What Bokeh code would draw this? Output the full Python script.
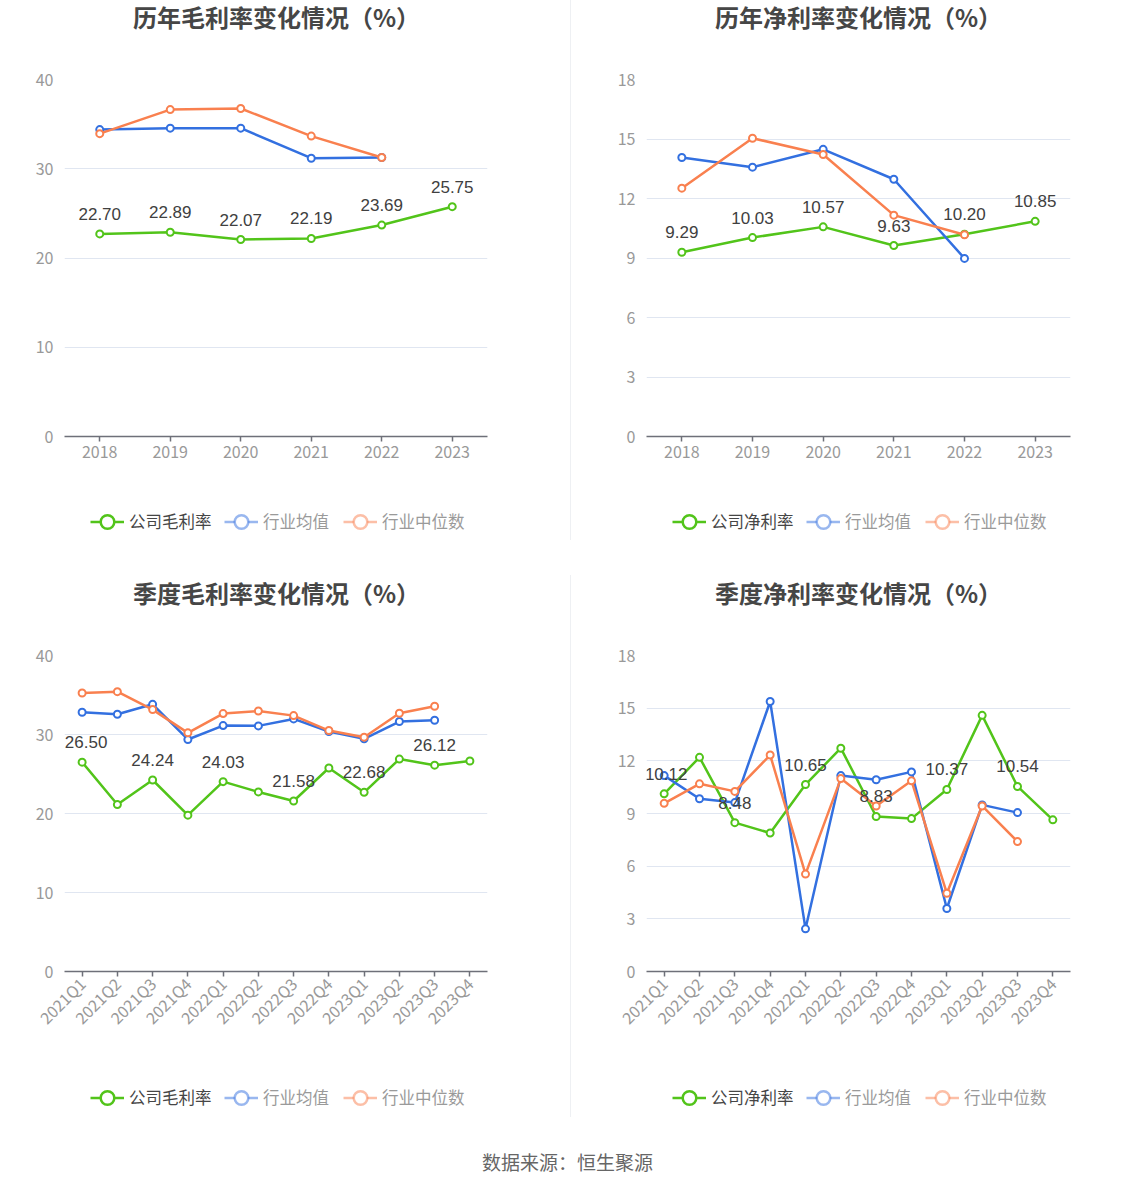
import math
from bokeh.plotting import figure
from bokeh.models import Range1d, FixedTicker, Legend, LegendItem, ColumnDataSource, Spacer
from bokeh.layouts import row, column
from bokeh.embed import file_html
from bokeh.resources import INLINE

years = ["2018", "2019", "2020", "2021", "2022", "2023"]
quarters = ["2021Q1", "2021Q2", "2021Q3", "2021Q4", "2022Q1", "2022Q2",
            "2022Q3", "2022Q4", "2023Q1", "2023Q2", "2023Q3", "2023Q4"]

annual_gross_company = [22.70, 22.89, 22.07, 22.19, 23.69, 25.75]
annual_gross_ind_mean = [34.39, 34.55, 34.55, 31.18, 31.26]
annual_gross_ind_median = [33.93, 36.63, 36.75, 33.66, 31.26]

annual_net_company = [9.29, 10.03, 10.57, 9.63, 10.20, 10.85]
annual_net_ind_mean = [14.07, 13.58, 14.48, 12.97, 8.98]
annual_net_ind_median = [12.52, 15.04, 14.22, 11.16, 10.17]

q_gross_company = [26.50, 21.13, 24.24, 19.79, 24.03, 22.73, 21.58, 25.76, 22.68, 26.89, 26.12, 26.64]
q_gross_ind_mean = [32.82, 32.56, 33.82, 29.37, 31.13, 31.09, 31.97, 30.38, 29.45, 31.64, 31.81]
q_gross_ind_median = [35.25, 35.42, 33.15, 30.21, 32.65, 32.98, 32.39, 30.50, 29.66, 32.69, 33.57]

q_net_company = [10.12, 12.20, 8.48, 7.89, 10.65, 12.72, 8.83, 8.71, 10.37, 14.59, 10.54, 8.64]
q_net_ind_mean = [11.16, 9.84, 9.62, 15.38, 2.43, 11.16, 10.92, 11.37, 3.59, 9.49, 9.05]
q_net_ind_median = [9.58, 10.69, 10.26, 12.33, 5.55, 10.99, 9.43, 10.86, 4.46, 9.43, 7.40]

annual_label_idx = [0, 1, 2, 3, 4, 5]
quarter_label_idx = [0, 2, 4, 6, 8, 10]

gross_ticks = [0, 10, 20, 30, 40]
net_ticks = [0, 3, 6, 9, 12, 15, 18]

titles = ["历年毛利率变化情况（%）", "历年净利率变化情况（%）",
          "季度毛利率变化情况（%）", "季度净利率变化情况（%）"]
legend_names_gross = ["公司毛利率", "行业均值", "行业中位数"]
legend_names_net = ["公司净利率", "行业均值", "行业中位数"]
source_note = "数据来源：恒生聚源"

GREEN = "#52c41a"
BLUE = "#3370e0"
ORANGE = "#f9804f"
FONT = "Noto Sans CJK SC"


def blank_fig(width, height, bl=0, br=0):
    p = figure(width=width, height=height, x_range=Range1d(bl, width - br),
               y_range=Range1d(0, height),
               output_backend="svg", toolbar_location=None,
               x_axis_location=None, y_axis_location=None,
               min_border_left=bl, min_border_right=br, min_border_top=0, min_border_bottom=0)
    p.grid.visible = False
    p.outline_line_color = None
    p.background_fill_color = "white"
    p.border_fill_color = "white"
    return p


def title_fig(text, width, height, bl, br, cx, cy_from_top):
    p = blank_fig(width, height, bl, br)
    p.text(x=[cx], y=[height - cy_from_top], text=[text], text_align="center",
           text_baseline="middle", text_font_size="24px", text_font_style="bold",
           text_color="#464646", text_font={"value": FONT})
    return p


def legend_fig(names, width, height, bl, br, xoffs, cy_from_top):
    p = blank_fig(width, height, bl, br)
    cols = [GREEN, BLUE, ORANGE]
    alphas = [1.0, 0.5, 0.5]
    tcols = ["#464646", "#9a9a9a", "#9a9a9a"]
    for name, col, a, tc, xo in zip(names, cols, alphas, tcols, xoffs):
        dsrc = ColumnDataSource(dict(x=[float(bl)], y=[float("nan")]))
        lr = p.line("x", "y", source=dsrc, line_color=col, line_width=2.5, line_alpha=a)
        sr = p.scatter("x", "y", source=dsrc, marker="circle", line_color=col, line_width=2.5,
                       line_alpha=a, fill_color="white")
        lg = Legend(items=[LegendItem(label=name, renderers=[lr, sr])],
                    location=(xo, height - cy_from_top - 17.5), orientation="horizontal",
                    glyph_width=34, glyph_height=35, label_standoff=5,
                    label_text_font=FONT, label_text_font_size="16.5px", label_text_color=tc,
                    padding=0, margin=0, spacing=0,
                    background_fill_alpha=0, border_line_alpha=0)
        p.add_layout(lg)
    return p


def chart_fig(factors, company, mean, median, yend, ticks, label_idx,
              width, height, bl, br, bt, bb, rotate, first_dx=0):
    p = figure(width=width, height=height, x_range=factors, y_range=Range1d(0, yend),
               output_backend="svg", toolbar_location=None,
               min_border_left=bl, min_border_right=br, min_border_top=bt, min_border_bottom=bb)
    p.outline_line_color = None
    p.background_fill_color = "white"
    p.border_fill_color = "white"

    p.xgrid.grid_line_color = None
    p.ygrid.grid_line_color = "#e0e6f1"
    p.ygrid.grid_line_width = 1
    p.yaxis.ticker = FixedTicker(ticks=ticks)
    p.yaxis.axis_line_color = None
    p.yaxis.major_tick_line_color = None
    p.yaxis.minor_tick_line_color = None
    p.yaxis.major_label_text_color = "#999999"
    p.yaxis.major_label_text_font = FONT
    p.yaxis.major_label_text_font_size = "16px"
    p.yaxis.major_label_standoff = 5

    p.xaxis.axis_line_color = "#6e7079"
    p.xaxis.axis_line_width = 1.5
    p.xaxis.major_tick_line_color = "#6e7079"
    p.xaxis.major_tick_line_width = 1.5
    p.xaxis.major_tick_out = 5
    p.xaxis.major_tick_in = 0
    p.xaxis.minor_tick_line_color = None
    p.xaxis.major_label_text_color = "#999999"
    p.xaxis.major_label_text_font = FONT
    p.xaxis.major_label_text_font_size = "16px"
    p.xaxis.major_label_standoff = 4
    if rotate:
        p.xaxis.major_label_orientation = math.pi / 4

    for vals, col in [(company, GREEN), (mean, BLUE), (median, ORANGE)]:
        src = ColumnDataSource(dict(x=factors[:len(vals)], y=vals))
        p.line("x", "y", source=src, line_color=col, line_width=2.5)
        p.scatter("x", "y", source=src, marker="circle", size=7, line_color=col,
                  line_width=2, fill_color="white")

    dx = [first_dx if k == 0 else 0 for k in range(len(label_idx))]
    lab = ColumnDataSource(dict(x=[factors[i] for i in label_idx],
                                y=[company[i] for i in label_idx],
                                t=["%.2f" % company[i] for i in label_idx],
                                dx=dx))
    p.text("x", "y", text="t", source=lab, text_align="center", text_baseline="bottom",
           x_offset="dx", y_offset=-14, text_font_size="17px", text_color="#404040")
    return p


LW, RW = 570, 563
LBL, LBR = 64, 83
RBL, RBR = 75, 64

# top-left
t1 = title_fig(titles[0], LW, 50, LBL, LBR, 276, 16)
c1 = chart_fig(years, annual_gross_company, annual_gross_ind_mean, annual_gross_ind_median,
               40, gross_ticks, annual_label_idx, LW, 420, LBL, LBR, 29, 34, False)
l1 = legend_fig(legend_names_gross, LW, 90, LBL, LBR, [26, 160, 279], 51)
# top-right
t2 = title_fig(titles[1], RW, 50, RBL, RBR, 858 - 571, 16)
c2 = chart_fig(years, annual_net_company, annual_net_ind_mean, annual_net_ind_median,
               18, net_ticks, annual_label_idx, RW, 420, RBL, RBR, 29, 34, False)
l2 = legend_fig(legend_names_net, RW, 90, RBL, RBR, [26, 160, 279], 51)
# bottom-left
t3 = title_fig(titles[2], LW, 60, LBL, LBR, 276, 32)
c3 = chart_fig(quarters, q_gross_company, q_gross_ind_mean, q_gross_ind_median,
               40, gross_ticks, quarter_label_idx, LW, 420, LBL, LBR, 35, 68, True, first_dx=4)
l3 = legend_fig(legend_names_gross, LW, 85, LBL, LBR, [26, 160, 279], 57)
# bottom-right
t4 = title_fig(titles[3], RW, 60, RBL, RBR, 858 - 571, 32)
c4 = chart_fig(quarters, q_net_company, q_net_ind_mean, q_net_ind_median,
               18, net_ticks, quarter_label_idx, RW, 420, RBL, RBR, 35, 68, True, first_dx=2)
l4 = legend_fig(legend_names_net, RW, 85, RBL, RBR, [26, 160, 279], 57)

sep_top = Spacer(width=1, height=540, styles={"background-color": "#eef0f3"})
sep_bot = column(Spacer(width=1, height=15),
                 Spacer(width=1, height=542, styles={"background-color": "#eef0f3"}))

footer = blank_fig(1134, 63)
footer.text(x=[567], y=[63 - 36], text=[source_note], text_align="center",
            text_baseline="middle", text_font_size="19px", text_color="#666666",
            text_font={"value": FONT})

layout = column(row(column(t1, c1, l1), sep_top, column(t2, c2, l2)),
                row(column(t3, c3, l3), sep_bot, column(t4, c4, l4)),
                footer)

open("out.html", "w").write(file_html(layout, INLINE))
